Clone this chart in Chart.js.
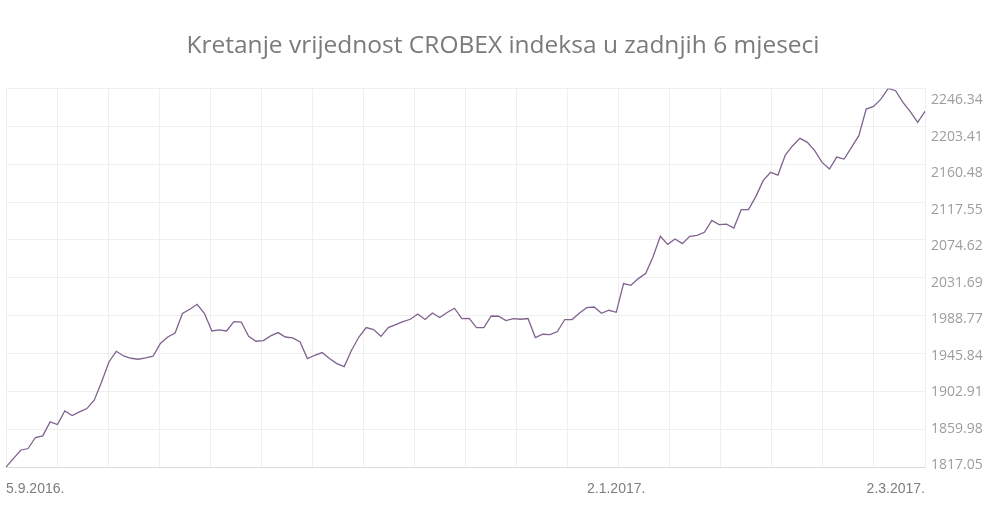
<!DOCTYPE html>
<html>
<head>
<meta charset="utf-8">
<script src="https://cdn.jsdelivr.net/npm/chart.js@4/dist/chart.umd.min.js"></script>
<style>
    html, body { margin: 0; padding: 0; background: #fff; }
    #wrap { width: 1000px; height: 525px; position: relative; }
</style>
</head>
<body>
<div id="wrap"><canvas id="crobexChart"></canvas></div>
<script>
const chartTitle = 'Kretanje vrijednost CROBEX indeksa u zadnjih 6 mjeseci';

// trading days, 5.9.2016. - 2.3.2017.
const dates = [
    '5.9.2016.', '6.9.2016.', '7.9.2016.', '8.9.2016.', '9.9.2016.', '12.9.2016.', '13.9.2016.', '14.9.2016.', '15.9.2016.', '16.9.2016.',
    '19.9.2016.', '20.9.2016.', '21.9.2016.', '22.9.2016.', '23.9.2016.', '26.9.2016.', '27.9.2016.', '28.9.2016.', '29.9.2016.', '30.9.2016.',
    '3.10.2016.', '4.10.2016.', '5.10.2016.', '6.10.2016.', '7.10.2016.', '10.10.2016.', '11.10.2016.', '12.10.2016.', '13.10.2016.', '14.10.2016.',
    '17.10.2016.', '18.10.2016.', '19.10.2016.', '20.10.2016.', '21.10.2016.', '24.10.2016.', '25.10.2016.', '26.10.2016.', '27.10.2016.', '28.10.2016.', '31.10.2016.',
    '2.11.2016.', '3.11.2016.', '4.11.2016.', '7.11.2016.', '8.11.2016.', '9.11.2016.', '10.11.2016.', '11.11.2016.', '14.11.2016.', '15.11.2016.',
    '16.11.2016.', '17.11.2016.', '18.11.2016.', '21.11.2016.', '22.11.2016.', '23.11.2016.', '24.11.2016.', '25.11.2016.', '28.11.2016.', '29.11.2016.', '30.11.2016.',
    '1.12.2016.', '2.12.2016.', '5.12.2016.', '6.12.2016.', '7.12.2016.', '8.12.2016.', '9.12.2016.', '12.12.2016.', '13.12.2016.', '14.12.2016.',
    '15.12.2016.', '16.12.2016.', '19.12.2016.', '20.12.2016.', '21.12.2016.', '22.12.2016.', '23.12.2016.', '27.12.2016.', '28.12.2016.', '29.12.2016.', '30.12.2016.',
    '2.1.2017.', '3.1.2017.', '4.1.2017.', '5.1.2017.', '9.1.2017.', '10.1.2017.', '11.1.2017.', '12.1.2017.', '13.1.2017.', '16.1.2017.',
    '17.1.2017.', '18.1.2017.', '19.1.2017.', '20.1.2017.', '23.1.2017.', '24.1.2017.', '25.1.2017.', '26.1.2017.', '27.1.2017.', '30.1.2017.', '31.1.2017.',
    '1.2.2017.', '2.2.2017.', '3.2.2017.', '6.2.2017.', '7.2.2017.', '8.2.2017.', '9.2.2017.', '10.2.2017.', '13.2.2017.', '14.2.2017.',
    '15.2.2017.', '16.2.2017.', '17.2.2017.', '20.2.2017.', '21.2.2017.', '22.2.2017.', '23.2.2017.', '24.2.2017.', '27.2.2017.', '28.2.2017.',
    '1.3.2017.', '2.3.2017.'
];

const crobex = [
    1817.05, 1826.8, 1836.3, 1838.2, 1850.7, 1852.5, 1868.4, 1865.4, 1880.8, 1875.6,
    1879.7, 1883.5, 1892.9, 1913.7, 1936.3, 1948.4, 1943.1, 1940.5, 1939.4, 1940.9,
    1942.8, 1957.2, 1964.6, 1969.2, 1991.2, 1996.0, 2001.7, 1991.2, 1971.4, 1972.6,
    1971.4, 1982.1, 1981.6, 1965.4, 1959.8, 1960.6, 1965.8, 1969.6, 1964.6, 1963.5,
    1959.0, 1940.2, 1943.9, 1947.0, 1940.2, 1934.5, 1931.1, 1949.6, 1964.6, 1975.3,
    1973.0, 1965.4, 1975.3, 1978.7, 1982.1, 1984.7, 1990.7, 1984.4, 1991.8, 1986.6,
    1992.3, 1997.2, 1985.5, 1985.8, 1975.3, 1975.3, 1988.4, 1988.1, 1983.2, 1985.5,
    1984.7, 1985.5, 1964.0, 1967.7, 1967.4, 1970.8, 1984.4, 1984.4, 1991.8, 1997.9,
    1998.6, 1991.5, 1994.9, 1992.6, 2025.1, 2023.2, 2030.8, 2036.5, 2055.3, 2078.7,
    2069.6, 2075.6, 2070.4, 2078.7, 2079.8, 2083.2, 2096.8, 2092.0, 2092.6, 2088.1,
    2108.9, 2108.9, 2124.0, 2142.1, 2151.2, 2148.1, 2170.8, 2181.4, 2189.7, 2185.2,
    2175.8, 2162.5, 2154.9, 2168.5, 2166.3, 2179.5, 2192.8, 2222.9, 2226.0, 2234.2,
    2246.34, 2243.7, 2230.5, 2220.0, 2207.8, 2220.3
];

const yTicks = [1817.05, 1859.98, 1902.91, 1945.84, 1988.77, 2031.69, 2074.62, 2117.55, 2160.48, 2203.41, 2246.34];
const xTickLabels = ['5.9.2016.', '2.1.2017.', '2.3.2017.'];
const gridColumns = 18;

// y labels are spread a little below the top gridline, as in the original
const yLabelPlugin = {
    id: 'yLabels',
    afterDraw(chart) {
        const ctx = chart.ctx;
        const y = chart.scales.y;
        const yb = y.getPixelForValue(yTicks[0]) - 2;
        const yt = y.getPixelForValue(yTicks[yTicks.length - 1]) + 12;
        ctx.save();
        ctx.font = "14px 'Open Sans', sans-serif";
        ctx.fillStyle = '#9d9d9d';
        ctx.textAlign = 'left';
        ctx.textBaseline = 'middle';
        yTicks.forEach((v, k) => {
            const py = yb + (yt - yb) * k / (yTicks.length - 1);
            ctx.fillText(v.toFixed(2), chart.chartArea.right + 6, py);
        });
        ctx.restore();
    }
};

const ctx = document.getElementById('crobexChart').getContext('2d');
new Chart(ctx, {
    type: 'line',
    data: {
        labels: dates,
        datasets: [{
            label: 'CROBEX',
            data: crobex,
            borderColor: '#80628f',
            borderWidth: 1.3,
            pointRadius: 0,
            pointHoverRadius: 0,
            tension: 0,
            fill: false
        }]
    },
    options: {
        responsive: true,
        maintainAspectRatio: false,
        animation: false,
        layout: { autoPadding: false, padding: { left: 6, right: 0, top: 0, bottom: 13 } },
        plugins: {
            legend: { display: false },
            tooltip: { enabled: false },
            title: {
                display: true,
                text: chartTitle,
                color: '#7a7a7a',
                font: { family: "'Open Sans', sans-serif", size: 24.5, weight: 'normal' },
                padding: { top: 31, bottom: 28 }
            }
        },
        scales: {
            x: {
                type: 'category',
                offset: false,
                grid: { display: false, drawTicks: false },
                border: { display: true, color: '#dcdcdc' },
                afterFit: scale => { scale.paddingLeft = 0; },
                ticks: {
                    autoSkip: false,
                    maxRotation: 0,
                    minRotation: 0,
                    align: 'inner',
                    padding: 14,
                    color: '#7d7d7d',
                    font: { family: "'Liberation Sans', Arial, sans-serif", size: 14 },
                    callback: function(value) {
                        const lbl = this.getLabelForValue(value);
                        return xTickLabels.includes(lbl) ? lbl : '';
                    }
                }
            },
            gx: {
                type: 'linear',
                position: 'bottom',
                min: 0,
                max: gridColumns,
                afterFit: scale => { scale.height = 0; },
                grid: { color: '#efefef', drawTicks: false },
                border: { display: false },
                ticks: { display: false, stepSize: 1 }
            },
            y: {
                position: 'right',
                min: yTicks[0],
                max: yTicks[yTicks.length - 1],
                afterBuildTicks: scale => { scale.ticks = yTicks.map(v => ({ value: v })); },
                afterFit: scale => { scale.width = 75; },
                grid: { color: '#efefef', drawTicks: false },
                border: { display: false },
                ticks: { display: false }
            }
        }
    },
    plugins: [yLabelPlugin]
});
</script>
</body>
</html>
